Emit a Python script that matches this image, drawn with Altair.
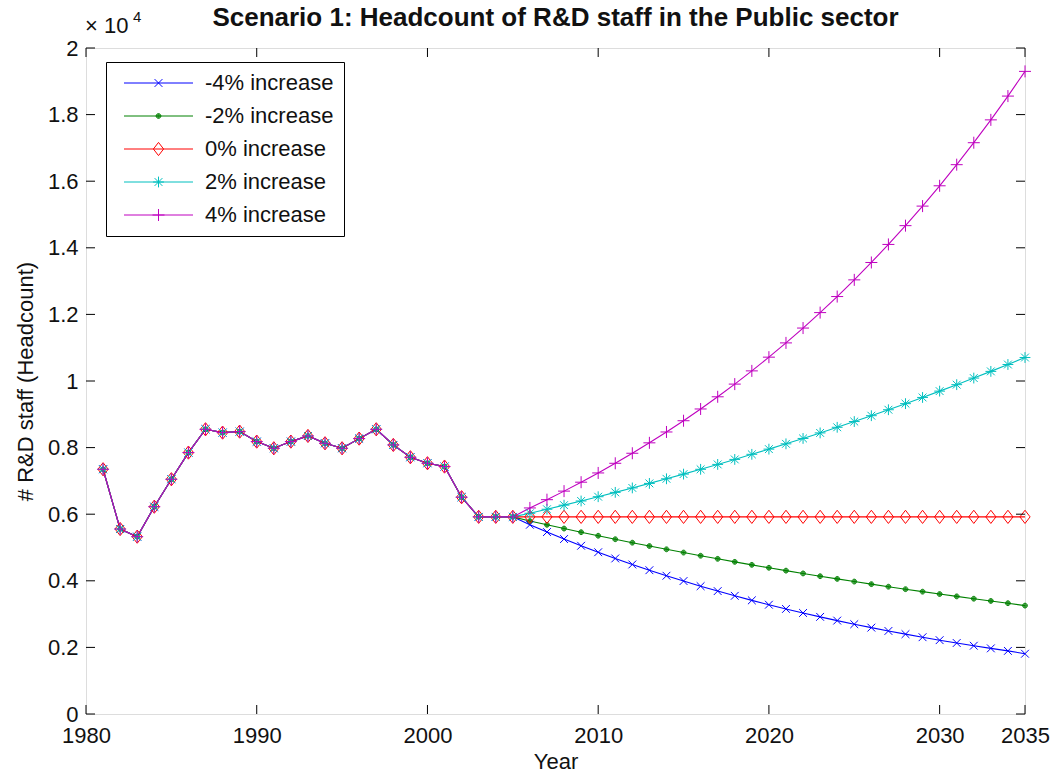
import altair as alt
import pandas as pd

SERIES = ["-4% increase", "-2% increase", "0% increase", "2% increase", "4% increase"]
COLORS = ["#0000ff", "#008000", "#ff0000", "#00bfbf", "#bf00bf"]
TITLE = "Scenario 1: Headcount of R&D staff in the Public sector"

HIST_YEARS = [1981, 1982, 1983, 1984, 1985, 1986, 1987, 1988, 1989, 1990,
              1991, 1992, 1993, 1994, 1995, 1996, 1997, 1998, 1999, 2000,
              2001, 2002, 2003, 2004, 2005]
HIST_VALUES = [7350, 5555, 5325, 6225, 7050, 7850, 8550, 8450, 8480, 8180,
               7980, 8180, 8350, 8130, 7980, 8270, 8550, 8080, 7710, 7530,
               7430, 6510, 5920, 5920, 5920]

PROJ_YEARS = [2006, 2007, 2008, 2009, 2010, 2011, 2012, 2013, 2014, 2015,
              2016, 2017, 2018, 2019, 2020, 2021, 2022, 2023, 2024, 2025,
              2026, 2027, 2028, 2029, 2030, 2031, 2032, 2033, 2034, 2035]
PROJ_M4 = [5683, 5464, 5254, 5052, 4858, 4671, 4491, 4318, 4152, 3993,
           3839, 3691, 3549, 3413, 3282, 3155, 3034, 2917, 2805, 2697,
           2594, 2494, 2398, 2306, 2217, 2132, 2050, 1971, 1895, 1810]
PROJ_M2 = [5794, 5681, 5569, 5460, 5353, 5248, 5145, 5044, 4945, 4848,
           4753, 4660, 4569, 4479, 4391, 4305, 4221, 4138, 4057, 3977,
           3899, 3823, 3748, 3674, 3602, 3532, 3462, 3395, 3328, 3255]
PROJ_0 = [5920, 5920, 5920, 5920, 5920, 5920, 5920, 5920, 5920, 5920,
          5920, 5920, 5920, 5920, 5920, 5920, 5920, 5920, 5920, 5920,
          5920, 5920, 5920, 5920, 5920, 5920, 5920, 5920, 5920, 5920]
PROJ_P2 = [6028, 6149, 6272, 6397, 6525, 6656, 6789, 6925, 7063, 7204,
           7348, 7495, 7645, 7798, 7954, 8113, 8275, 8441, 8610, 8782,
           8958, 9137, 9320, 9506, 9696, 9890, 10088, 10289, 10495, 10705]
PROJ_P4 = [6188, 6436, 6693, 6961, 7239, 7529, 7830, 8143, 8469, 8807,
           9160, 9526, 9907, 10304, 10716, 11144, 11590, 12054, 12536, 13037,
           13559, 14101, 14665, 15252, 15862, 16496, 17156, 17842, 18556, 19298]

X_TICKS = [1980, 1990, 2000, 2010, 2020, 2030, 2035]
Y_TICKS = [0, 2000, 4000, 6000, 8000, 10000, 12000, 14000, 16000, 18000, 20000]

# marker shapes (MATLAB x, ., diamond, *, +)
DOT = ("A{r},{r} 0 1,0 {b},0A{r},{r} 0 1,0 {a},0")
def dot(cx):
    parts = []
    for r in (0.8, 0.55, 0.3):
        parts.append("M{a},0".format(a=round(cx - r, 3)) +
                     DOT.format(r=r, a=round(cx - r, 3), b=round(cx + r, 3)))
    parts.append("M{a},0L{b},0".format(a=round(cx - 0.15, 3), b=round(cx + 0.15, 3)))
    return "".join(parts)

DATA_PATHS = [
    "M-1.3,-1.3L1.3,1.3M-1.3,1.3L1.3,-1.3",
    dot(0),
    "M0,-2.2L1.7,0L0,2.2L-1.7,0Z",
    "M-1.8,0L1.8,0M0,-1.8L0,1.8M-1.3,-1.3L1.3,1.3M-1.3,1.3L1.3,-1.3",
    "M-2,0L2,0M0,-2L0,2",
]
LEGEND_PATHS = [
    "M-1,0L22,0M9.2,-1.3L11.8,1.3M9.2,1.3L11.8,-1.3",
    "M-1,0L22,0" + dot(10.5),
    "M-1,0L22,0M10.5,-2.2L12.2,0L10.5,2.2L8.8,0Z",
    "M-1,0L22,0M8.7,0L12.3,0M10.5,-1.8L10.5,1.8M9.2,-1.3L11.8,1.3M9.2,1.3L11.8,-1.3",
    "M-1,0L22,0M8.5,0L12.5,0M10.5,-2L10.5,2",
]

W, H = 939, 666
FONT = "Liberation Sans"
FS = 22

proj = [PROJ_M4, PROJ_M2, PROJ_0, PROJ_P2, PROJ_P4]
rows = []
for name, p in zip(SERIES, proj):
    for yr, v in zip(HIST_YEARS + PROJ_YEARS, HIST_VALUES + p):
        rows.append({"year": yr, "value": v, "series": name})
df = pd.DataFrame(rows)

x_enc = alt.X("year:Q",
              scale=alt.Scale(domain=[1980, 2035], nice=False, zero=False),
              axis=alt.Axis(values=X_TICKS, format="d", title="Year", ticks=False, tickSize=0,
                            domain=False, grid=False, labelPadding=11, titlePadding=5,
                            labelFontSize=FS, titleFontSize=FS, labelOverlap=False,
                            labelFlush=False, labelColor="#111", titleColor="#111",
                            titleFontWeight="normal", labelFont=FONT, titleFont=FONT))
y_enc = alt.Y("value:Q",
              scale=alt.Scale(domain=[0, 20000], nice=False, zero=True),
              axis=alt.Axis(values=Y_TICKS, labelExpr="format(datum.value/10000, '~g')",
                            title="# R&D staff (Headcount)", ticks=False, tickSize=0,
                            domain=False, grid=False, labelPadding=8, titlePadding=10,
                            labelFontSize=FS, titleFontSize=FS, labelOverlap=False,
                            labelColor="#111", titleColor="#111", titleFontWeight="normal",
                            labelFont=FONT, titleFont=FONT))

color_scale = alt.Scale(domain=SERIES, range=COLORS)

lines = alt.Chart(df).mark_line(strokeWidth=1.1).encode(
    x=x_enc, y=y_enc,
    color=alt.Color("series:N", scale=color_scale, legend=None),
)

points = alt.Chart(df).mark_point(filled=False, size=36, strokeWidth=1, opacity=1).encode(
    x=x_enc, y=y_enc,
    color=alt.Color("series:N", scale=color_scale, legend=None),
    shape=alt.Shape("series:N", scale=alt.Scale(domain=SERIES, range=DATA_PATHS), legend=None),
)

leg = alt.Legend(title=None, orient="none", legendX=20, legendY=14, symbolSize=36,
                 symbolStrokeWidth=1, labelFontSize=FS, labelFont=FONT, labelColor="#111",
                 labelOffset=67, rowPadding=11, padding=10, strokeColor="black",
                 fillColor="white", labelLimit=300, symbolOffset=0)

legend_layer = alt.Chart(df).transform_filter("false").mark_point(
    filled=False, size=36, strokeWidth=1, opacity=1).encode(
    x=x_enc, y=y_enc,
    color=alt.Color("series:N", scale=color_scale, legend=leg),
    shape=alt.Shape("series:N", scale=alt.Scale(domain=SERIES, range=LEGEND_PATHS), legend=leg),
)

xt = pd.DataFrame({"year": X_TICKS})
yt = pd.DataFrame({"value": Y_TICKS})
TL = 9
xt_bottom = alt.Chart(xt).mark_rule(color="black", strokeWidth=1).encode(
    x=x_enc, y=alt.value(H), y2=alt.value(H - TL))
xt_top = alt.Chart(xt).mark_rule(color="black", strokeWidth=1).encode(
    x=x_enc, y=alt.value(0), y2=alt.value(TL))
yt_left = alt.Chart(yt).mark_rule(color="black", strokeWidth=1).encode(
    y=y_enc, x=alt.value(0), x2=alt.value(TL))
yt_right = alt.Chart(yt).mark_rule(color="black", strokeWidth=1).encode(
    y=y_enc, x=alt.value(W - TL), x2=alt.value(W))

one = pd.DataFrame({"k": [0]})
exp_base = alt.Chart(one).mark_text(text="× 10", align="left", baseline="middle",
                                    fontSize=FS, font=FONT, color="#111").encode(
    x=alt.value(-1), y=alt.value(-22))
exp_sup = alt.Chart(one).mark_text(text="4", align="left", baseline="middle",
                                   fontSize=15, font=FONT, color="#111").encode(
    x=alt.value(47), y=alt.value(-31))
title_text = alt.Chart(one).mark_text(text=TITLE, align="center", baseline="middle",
                                      fontSize=26, fontWeight="bold", font=FONT,
                                      color="#111").encode(
    x=alt.value(W / 2), y=alt.value(-30))

chart = alt.layer(
    lines, points, legend_layer, xt_bottom, xt_top, yt_left, yt_right,
    exp_base, exp_sup, title_text
).resolve_scale(
    color="independent", shape="independent"
).properties(
    width=W, height=H,
    autosize=alt.AutoSizeParams(type="none"),
    padding={"left": 86, "top": 48, "right": 33, "bottom": 64},
).configure_view(stroke="black", strokeWidth=1).configure(font=FONT, background="white")

chart.save("out.html", embed_options={"renderer": "svg", "actions": False})
